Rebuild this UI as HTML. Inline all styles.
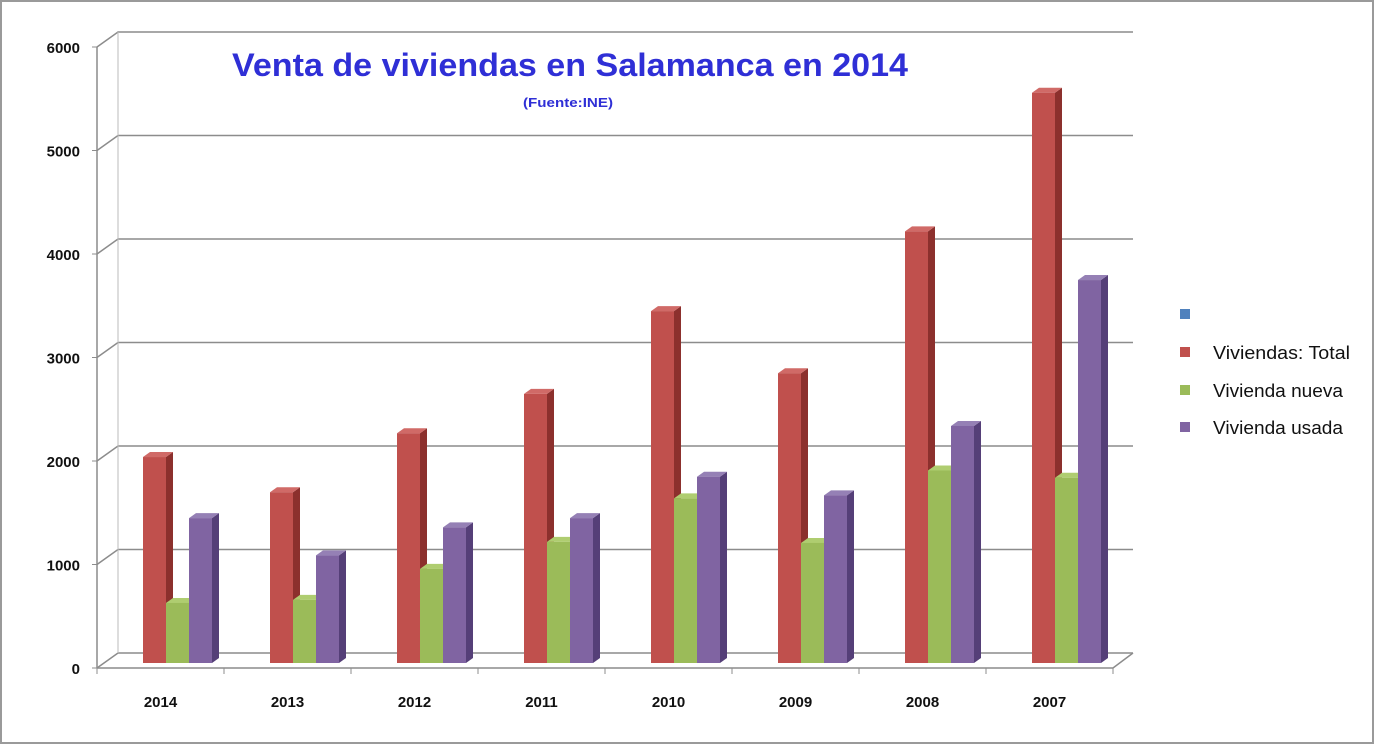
<!DOCTYPE html>
<html><head><meta charset="utf-8"><style>
body{margin:0;background:#fff;}
svg{display:block;font-family:"Liberation Sans",sans-serif;}
</style></head><body>
<svg width="1374" height="744" viewBox="0 0 1374 744">
<rect x="1" y="1" width="1372" height="742" fill="#fff" stroke="#9a9a9a" stroke-width="2"/>
<g id="grid"></g>
<g id="yax"></g>
<g id="xax"></g>
<g id="bars"></g>
<text x="570" y="76" text-anchor="middle" font-size="32" font-weight="bold" fill="#2f2fd6" textLength="676" lengthAdjust="spacingAndGlyphs">Venta de viviendas en Salamanca en 2014</text>
<text x="568" y="107" text-anchor="middle" font-size="13" font-weight="bold" fill="#2f2fd6" textLength="90" lengthAdjust="spacingAndGlyphs">(Fuente:INE)</text>
<g>
<rect x="1180" y="309" width="10" height="10" fill="#4f81bd"/>
<rect x="1180" y="347" width="10" height="10" fill="#c0504d"/>
<text x="1213" y="359" font-size="18" fill="#111" textLength="137" lengthAdjust="spacingAndGlyphs">Viviendas: Total</text>
<rect x="1180" y="385" width="10" height="10" fill="#9bbb59"/>
<text x="1213" y="397" font-size="18" fill="#111" textLength="130" lengthAdjust="spacingAndGlyphs">Vivienda nueva</text>
<rect x="1180" y="422" width="10" height="10" fill="#8064a2"/>
<text x="1213" y="434" font-size="18" fill="#111" textLength="130" lengthAdjust="spacingAndGlyphs">Vivienda usada</text>
</g>
</svg>
<script>
const categories=["2014","2013","2012","2011","2010","2009","2008","2007"];
const totalValues=[1990,1650,2220,2600,3400,2800,4170,5510];
const nuevaValues=[580,610,910,1170,1590,1160,1860,1790];
const usadaValues=[1400,1040,1310,1400,1800,1620,2290,3700];
const yTicks=[0,1000,2000,3000,4000,5000,6000];

const NS="http://www.w3.org/2000/svg";
const x0=97,catW=127,yFront=668,scale=0.1035,dx=21,dy=-15,backRight=1133;
const baseBar=663;
function yF(v){return yFront-v*scale;}
function yB(v){return baseBar-v*scale;}
function mk(tag,attrs,parent){const e=document.createElementNS(NS,tag);for(const k in attrs)e.setAttribute(k,attrs[k]);parent.appendChild(e);return e;}
const grid=document.getElementById('grid'),yax=document.getElementById('yax'),xax=document.getElementById('xax'),bars=document.getElementById('bars');
yTicks.forEach(t=>{
  const y=yF(t);
  const p=mk('polyline',{points:`${x0},${y} ${x0+dx},${y+dy} ${backRight},${y+dy}`,fill:'none',stroke:'#8c8c8c','stroke-width':1.5},grid);
  
  
  const tk=mk('line',{x1:x0-5,y1:y,x2:x0,y2:y,stroke:'#8c8c8c'},yax);
  
  
  const tx=mk('text',{x:80,y:y+6,'text-anchor':'end','font-size':15,'font-weight':'bold',fill:'#111'},yax);
  tx.textContent=t;
  
  
});
mk('line',{x1:x0+dx,y1:yF(0)+dy,x2:x0+dx,y2:yF(6000)+dy,stroke:'#bbb'},grid);
mk('line',{x1:x0,y1:yF(0),x2:x0,y2:yF(6000),stroke:'#8c8c8c','stroke-width':1.5},yax);
const endX=x0+catW*categories.length;
mk('polyline',{points:`${x0},${yFront} ${endX},${yFront} ${backRight},${yFront+dy}`,fill:'none',stroke:'#8c8c8c','stroke-width':1.5},xax);
categories.forEach((c,i)=>{
  const tk=mk('line',{x1:x0+catW*(i),y1:yFront,x2:x0+catW*i,y2:yFront+6,stroke:'#8c8c8c'},xax);
  
  
  const t=mk('text',{x:x0+catW*i+catW/2,y:707,'text-anchor':'middle','font-size':15,'font-weight':'bold',fill:'#111'},xax);
  t.textContent=c;
  
  
});
mk('line',{x1:endX,y1:yFront,x2:endX,y2:yFront+6,stroke:'#8c8c8c'},xax);
const series=[{v:totalValues,f:'#c0504d',s:'#8c302d',t:'#d06a67',n:'total'},{v:nuevaValues,f:'#9bbb59',s:'#6e8a38',t:'#afcd70',n:'nueva'},{v:usadaValues,f:'#8064a2',s:'#553f78',t:'#9580b5',n:'usada'}];
const bw=23,d=7,dh=-5;
categories.forEach((c,i)=>{
  series.forEach((sr,j)=>{
    const xl=x0+catW*i+46+j*bw, yt=yB(sr.v[i]);
    const g=mk('g',{},bars);
    
    
    mk('polygon',{points:`${xl+bw},${yt} ${xl+bw+d},${yt+dh} ${xl+bw+d},${baseBar+dh} ${xl+bw},${baseBar}`,fill:sr.s},g);
    mk('polygon',{points:`${xl},${yt} ${xl+d},${yt+dh} ${xl+bw+d},${yt+dh} ${xl+bw},${yt}`,fill:sr.t},g);
    mk('rect',{x:xl,y:yt,width:bw,height:baseBar-yt,fill:sr.f},g);
  });
});
</script>
</body></html>
